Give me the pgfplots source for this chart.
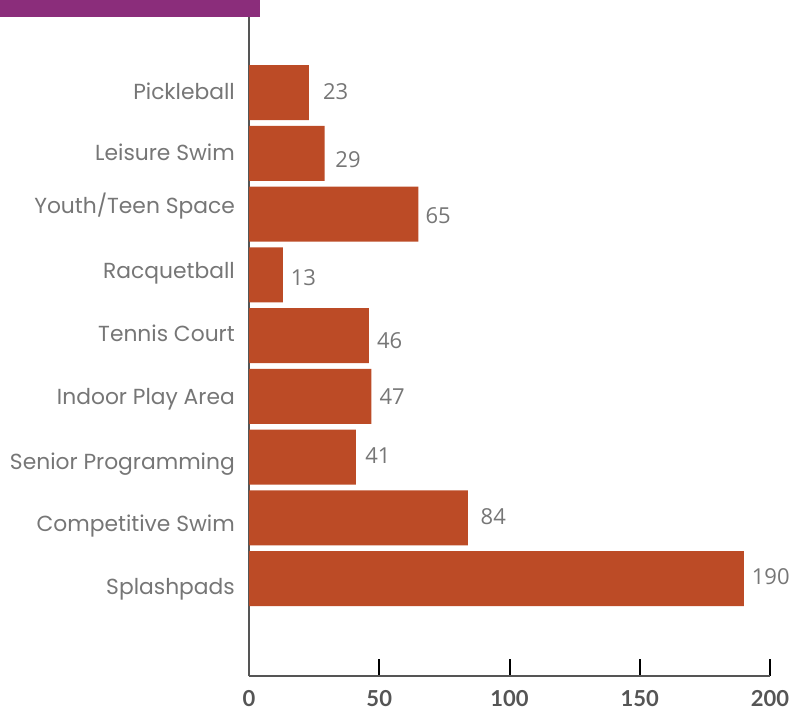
\documentclass[border=0pt]{standalone}
\usepackage{pgfplots}
\usepackage{pgfplotstable}
\pgfplotsset{compat=1.18}
\usepackage{fontspec}
\setmainfont{Poppins}
\newfontfamily\valfont{Open Sans}
\newfontfamily\tickfont{Lato}
\definecolor{barc}{HTML}{BC4B26}
\definecolor{purp}{HTML}{8B2D7B}
\definecolor{lab}{HTML}{767676}
\definecolor{axc}{HTML}{555555}
% value, position, label gap (px), label vertical offset (px, + = down)
\pgfplotstableread{
val pos gap dy
190 0 7.7 -2
84  1 12.7 -1
41  2 9.3 -1.5
47  3 8 0.7
46  4 8 5.5
13  5 7.7 2.7
65  6 7 1.5
29  7 10.7 6.7
23  8 14 -1
}\datatable
\begin{document}
\begin{tikzpicture}[x=1pt,y=1pt]
\path[use as bounding box] (0,0) rectangle (791,-710);
\fill[purp] (0,0) rectangle (260,-17);
\begin{axis}[
  at={(249pt,-676pt)}, anchor=south west, scale only axis,
  width=521pt, height=659pt,
  xmin=0, xmax=200, ymin=-1.605, ymax=9.243,
  xbar, bar width=55pt,
  axis x line=bottom, axis y line=left,
  axis line style={-, draw=axc, line width=2pt},
  xtick={0,50,100,150,200},
  tick align=inside, major tick length=17pt,
  x tick style={black, line width=2pt},
  ytick={0,...,8},
  yticklabels={\raisebox{-8pt}{Splashpads},\raisebox{-5.5pt}{Competitive Swim},\raisebox{-4.5pt}{Senior Programming},Indoor Play Area,\raisebox{2pt}{Tennis Court},\raisebox{4.5pt}{Racquetball},\raisebox{8pt}{Youth/Teen Space},\raisebox{1pt}{Leisure Swim},\raisebox{1pt}{Pickleball}},
  y tick style={draw=none},
  yticklabel style={font=\fontsize{21.8}{26}\selectfont, text=lab, anchor=base east, inner sep=0pt, xshift=-14pt, yshift=-7.8pt},
  xticklabel style={font=\tickfont\bfseries\fontsize{22}{26}\selectfont, text=axc, anchor=north, inner sep=0pt, yshift=-14pt},
  /pgf/number format/assume math mode=true,
  clip=false,
]
\addplot[fill=barc, draw=none,
  visualization depends on={\thisrow{gap} \as \labgap},
  visualization depends on={\thisrow{dy} \as \labdy},
  nodes near coords,
  nodes near coords style={font=\valfont\fontsize{22}{26}\selectfont, text=lab, anchor=base west, inner sep=0pt, xshift=\labgap pt, yshift=-\labdy pt - 7.9pt},
] table[x=val, y=pos] {\datatable};
\end{axis}
\end{tikzpicture}
\end{document}
